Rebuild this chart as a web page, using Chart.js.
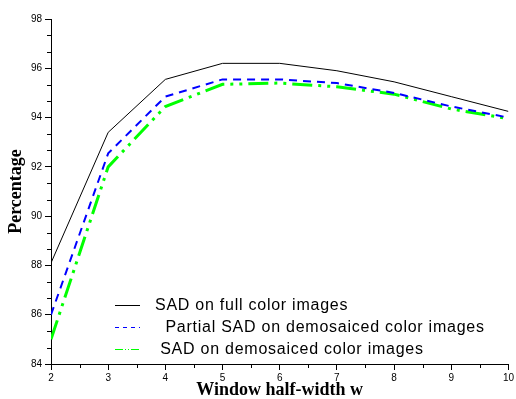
<!DOCTYPE html>
<html>
<head>
<meta charset="utf-8">
<script src="https://cdn.jsdelivr.net/npm/chart.js@4"></script>
<style>
  html, body { margin: 0; padding: 0; background: #fff; }
  #wrap { width: 516px; height: 399px; }
</style>
</head>
<body>
<div id="wrap"><canvas id="chart" width="516" height="399"></canvas></div>
<script>
// window half-width values
const windowSizes = [2, 3, 4, 5, 6, 7, 8, 9, 10];
// percentages
const sadFull = [88.1, 93.4, 95.55, 96.2, 96.2, 95.9, 95.45, 94.85, 94.25];
const partialSadDemosaiced = [86.0, 92.55, 94.85, 95.55, 95.55, 95.4, 95.0, 94.45, 94.0];
const sadDemosaiced = [85.0, 92.0, 94.45, 95.35, 95.4, 95.25, 94.95, 94.35, 93.95];
const seriesLabels = [
    'SAD on full color images',
    '  Partial SAD on demosaiced color images',
    ' SAD on demosaiced color images'
];
const xTitle = 'Window half-width w';
const yTitle = 'Percentage';

const lineColors = ['#000000', '#0000ff', '#00ff00'];
const legendDashes = [[], [4, 4], [8, 2, 1, 2, 1, 2]];

const toPoints = (ys) => ys.map((y, i) => ({ x: windowSizes[i], y: y }));

// minor ticks + legend inside the plot
const extrasPlugin = {
    id: 'extras',
    afterDraw(chart) {
        const ctx = chart.ctx;
        const xs = chart.scales.x;
        const ys = chart.scales.y;
        ctx.save();
        ctx.strokeStyle = '#000';
        ctx.lineWidth = 1;

        // minor ticks on x every 0.5
        for (let v = 2.5; v < 10; v += 1) {
            const px = Math.round(xs.getPixelForValue(v)) + 0.5;
            ctx.beginPath();
            ctx.moveTo(px, ys.bottom);
            ctx.lineTo(px, ys.bottom + 4);
            ctx.stroke();
        }
        // minor ticks on y every 2/3
        for (let k = 0; k <= 21; k++) {
            if (k % 3 === 0) continue;
            const py = Math.round(ys.getPixelForValue(84 + k * 2 / 3)) + 0.5;
            ctx.beginPath();
            ctx.moveTo(xs.left, py);
            ctx.lineTo(xs.left - 4, py);
            ctx.stroke();
        }

        // legend
        const rows = [305, 327, 349];
        ctx.font = '16px "Liberation Sans", Arial, sans-serif';
        ctx.letterSpacing = '0.75px';
        ctx.textBaseline = 'middle';
        ctx.fillStyle = '#000';
        seriesLabels.forEach((label, i) => {
            const y = rows[i] + 0.5;
            ctx.beginPath();
            ctx.strokeStyle = lineColors[i];
            ctx.lineWidth = 1;
            ctx.setLineDash(legendDashes[i]);
            ctx.moveTo(115, y);
            ctx.lineTo(140, y);
            ctx.stroke();
            ctx.setLineDash([]);
            ctx.fillText(label, 155, rows[i] + 1);
        });
        ctx.restore();
    }
};

const ctx = document.getElementById('chart').getContext('2d');
new Chart(ctx, {
    type: 'line',
    data: {
        datasets: [
            {
                label: seriesLabels[0],
                data: toPoints(sadFull),
                borderColor: lineColors[0],
                borderWidth: 1
            },
            {
                label: seriesLabels[1],
                data: toPoints(partialSadDemosaiced),
                borderColor: lineColors[1],
                borderWidth: 2,
                borderDash: [8, 6]
            },
            {
                label: seriesLabels[2],
                data: toPoints(sadDemosaiced),
                borderColor: lineColors[2],
                borderWidth: 3,
                borderDash: [20, 6, 3, 6, 3, 6]
            }
        ]
    },
    options: {
        responsive: false,
        animation: false,
        tension: 0,
        pointRadius: 0,
        layout: { padding: { top: 19, right: 7, left: 0, bottom: 0 } },
        plugins: {
            legend: { display: false },
            tooltip: { enabled: false }
        },
        scales: {
            x: {
                type: 'linear',
                min: 2,
                max: 10,
                afterFit: (scale) => { scale.height = 35; },
                ticks: {
                    stepSize: 1,
                    color: '#000',
                    padding: 2,
                    maxRotation: 0,
                    font: { family: '"Liberation Sans", Arial, sans-serif', size: 10 }
                },
                grid: { drawOnChartArea: false, drawTicks: true, tickLength: 6, color: '#000' },
                border: { display: true, color: '#000', width: 1 },
                title: {
                    display: true,
                    text: xTitle,
                    color: '#000',
                    padding: 0,
                    font: { family: '"Liberation Serif", "Times New Roman", serif', size: 18, weight: 'bold', lineHeight: 1 }
                }
            },
            y: {
                min: 84,
                max: 98,
                afterFit: (scale) => { scale.width = 51; },
                ticks: {
                    stepSize: 2,
                    color: '#000',
                    padding: 3,
                    font: { family: '"Liberation Sans", Arial, sans-serif', size: 10 }
                },
                grid: { drawOnChartArea: false, drawTicks: true, tickLength: 6, color: '#000' },
                border: { display: true, color: '#000', width: 1 },
                title: {
                    display: true,
                    text: yTitle,
                    color: '#000',
                    padding: { top: 7, bottom: 0 },
                    font: { family: '"Liberation Serif", "Times New Roman", serif', size: 18, weight: 'bold', lineHeight: 1 }
                }
            }
        }
    },
    plugins: [extrasPlugin]
});
</script>
</body>
</html>
